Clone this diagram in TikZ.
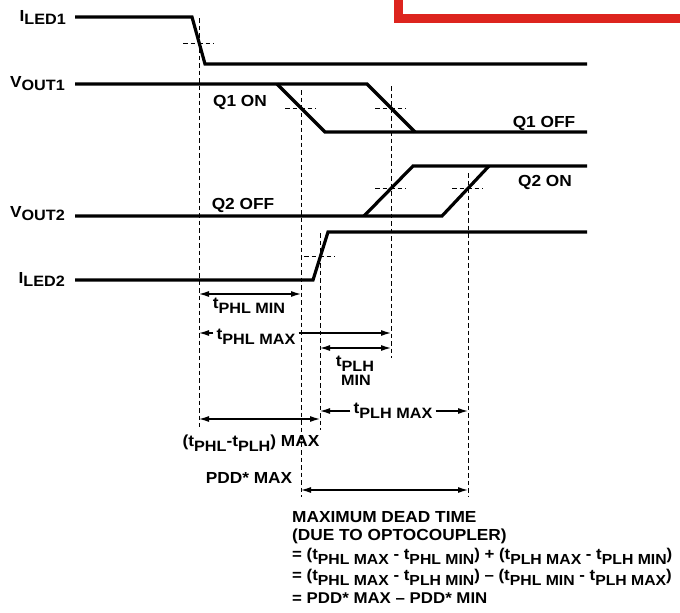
\documentclass[tikz,border=0pt]{standalone}
\usepackage{fontspec}
\setmainfont{Liberation Sans}[FakeStretch=1.08]
\usetikzlibrary{arrows.meta,positioning,calc}
\newcommand{\subsize}{15}
\newcommand{\subfont}{\fontsize{\subsize}{\subsize}\selectfont}
\newcommand{\subtx}[2][5pt]{\raisebox{-#1}{\subfont #2}}
\definecolor{banner red}{RGB}{221,36,30}
\tikzset{
  % Base style
  timing base/.style={
    x=1pt, y=-1pt,
    >={Latex[length=10pt,width=6pt]},
    every node/.style={font=\bfseries\fontsize{16}{19}\selectfont, inner sep=0pt},
  },
  % Waveforms and guides
  wave/.style={line width=3.2pt, line join=miter},
  guide/.style={line width=0.9pt, dash pattern=on 4.5pt off 3pt},
  % Delay arrows
  dim/.style={<->, line width=1.2pt},
  dim half/.style={->, line width=1.2pt},
  % Labels
  signal label/.style={anchor=base east},
  text label/.style={anchor=base},
  gap label/.style={anchor=base, inner xsep=3pt},
  title line/.style={anchor=base west},
  eq line/.style={anchor=base west,
    font=\bfseries\fontsize{15.6}{19}\selectfont\renewcommand{\subsize}{14.6}},
}

\begin{document}
\begin{tikzpicture}[timing base]
\useasboundingbox (0,0) rectangle (680,613);

% Banner box, cut off at the top
\draw[banner red, line width=9pt] (398,-30) rectangle (720,18.5);

% Signal names
\node[signal label] (iled1) at (66,21) {I\subtx[3pt]{LED1}};
\node[signal label] (vout1) at (65,87) {V\subtx[3pt]{OUT1}};
\node[signal label] (vout2) at (65,217) {V\subtx[3pt]{OUT2}};
\node[signal label] (iled2) at (65,283) {I\subtx[3pt]{LED2}};

% Waveforms
\draw[wave] (75,17) -- (192,17) -- (205,64) -- (587,64);
\draw[wave] (75,84) -- (367,84) -- (415,132);
\draw[wave] (277,84) -- (325,132) -- (587,132);
\draw[wave] (75,216) -- (442,216) -- (489,166);
\draw[wave] (364,216) -- (413,166) -- (587,166);
\draw[wave] (75,280) -- (313,280) -- (328,232) -- (587,232);

% Switching points
\coordinate (on1) at (199,43);
\coordinate (q1on) at (301,108);
\coordinate (q1off) at (391,108);
\coordinate (q2on) at (391,188);
\coordinate (q2late) at (468,188);
\coordinate (on2) at (320,256);

% Short dashed ticks
\foreach \p in {on1,q1on,q1off,q2on,q2late,on2}
  \draw[guide] ($(\p)+(-16,0)$) -- ($(\p)+(15,0)$);

% Dashed verticals
\draw[guide] (199,18) -- (199,427);
\draw[guide] (301,90) -- (301,497);
\draw[guide] (320,233) -- (320,430);
\draw[guide] (391,86) -- (391,358);
\draw[guide] (468,173) -- (468,497);

% State labels
\node[text label] (q1onl) at (240,106) {Q1 ON};
\node[text label] (q1offl) at (544,127) {Q1 OFF};
\node[text label] (q2offl) at (243,209) {Q2 OFF};
\node[text label] (q2onl) at (545,186) {Q2 ON};

% Levels of the delay arrows
\coordinate (y phlmin) at (0,294);
\coordinate (y phlmax) at (0,333);
\coordinate (y plhmin) at (0,348);
\coordinate (y plhmax) at (0,411);
\coordinate (y diff) at (0,419);
\coordinate (y pdd) at (0,490);

% t_PHL min
\draw[dim] (on1 |- y phlmin) -- (q1on |- y phlmin);
\node[text label] (phlmin) at (249,308) {t\subtx{PHL MIN}};

% t_PHL max
\node[gap label] (phlmax) at (256,339) {t\subtx{PHL MAX}};
\draw[dim half] (phlmax.west |- y phlmax) -- (on1 |- y phlmax);
\draw[dim half] (phlmax.east |- y phlmax) -- (q1off |- y phlmax);

% t_PLH min
\draw[dim] (on2 |- y plhmin) -- (q1off |- y plhmin);
\node[text label] (plhmin) at (355,366) {t\subtx{PLH}};
\node[text label, font=\bfseries\subfont] (plhmin2) at (356,385) {MIN};

% t_PLH max
\node[gap label] (plhmax) at (393,413) {t\subtx{PLH MAX}};
\draw[dim half] (plhmax.west |- y plhmax) -- (on2 |- y plhmax);
\draw[dim half] (plhmax.east |- y plhmax) -- (q2late |- y plhmax);

% (t_PHL - t_PLH) max
\draw[dim] (on1 |- y diff) -- (on2 |- y diff);
\node[text label] (diffl) at (251,446) {(t\subtx{PHL}-t\subtx{PLH}) MAX};

% PDD max
\draw[dim] (q1on |- y pdd) -- (q2late |- y pdd);
\node[text label] (pddl) at (249,483) {PDD* MAX};

% Dead time
\node[title line] (dead1) at (292,522) {MAXIMUM DEAD TIME};
\node[title line] (dead2) at (292,540) {(DUE TO OPTOCOUPLER)};
\node[eq line] (eq1) at (292,559) {= (t\subtx{PHL MAX} - t\subtx{PHL MIN}) + (t\subtx{PLH MAX} - t\subtx{PLH MIN})};
\node[eq line] (eq2) at (292,580) {= (t\subtx{PHL MAX} - t\subtx{PLH MIN}) – (t\subtx{PHL MIN} - t\subtx{PLH MAX})};
\node[eq line] (eq3) at (292,603) {= PDD* MAX – PDD* MIN};
\end{tikzpicture}
\end{document}
